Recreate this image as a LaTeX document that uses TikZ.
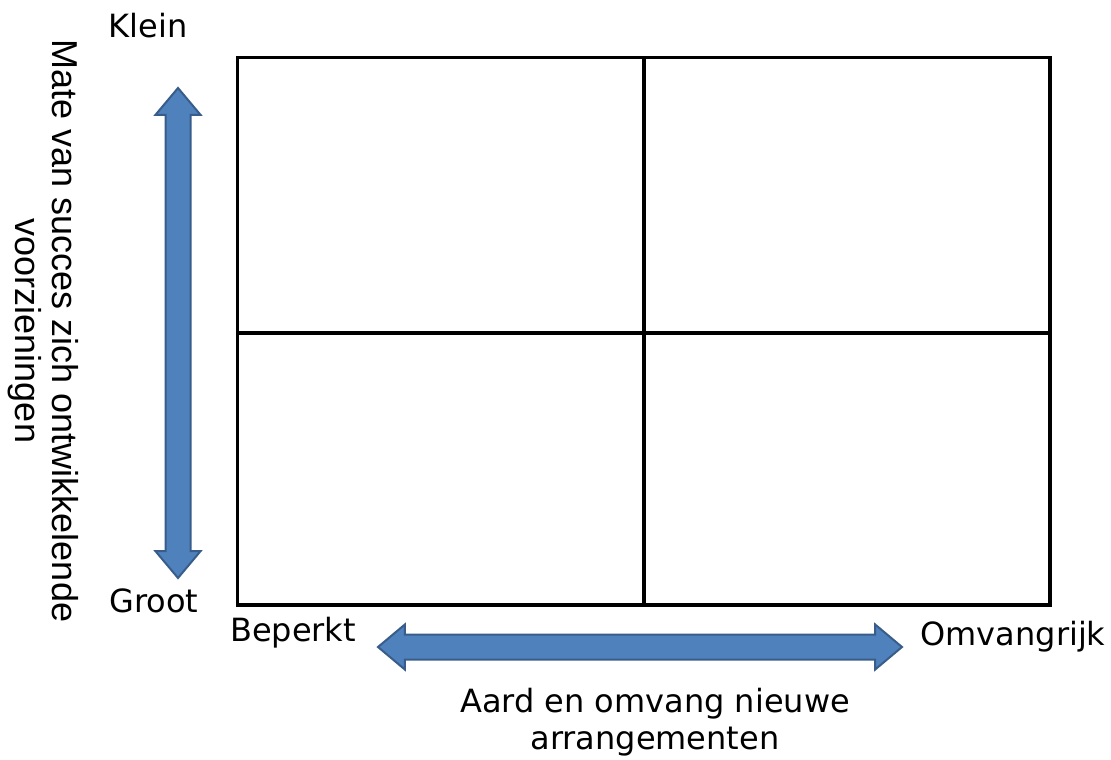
\documentclass[tikz,border=0pt]{standalone}
\usepackage{fontspec}
\setmainfont{DejaVu Sans}
\newfontfamily\arialfont{Liberation Sans}
\usetikzlibrary{shapes.arrows}
\definecolor{arrowfill}{HTML}{4F81BD}
\definecolor{arrowline}{HTML}{385D8A}

\begin{document}
\begin{tikzpicture}[x=1pt,y=-1pt,
    bigarrow/.style={double arrow, fill=arrowfill, draw=arrowline, line width=2pt,
      inner sep=11.5pt, minimum width=0pt, double arrow head extend=10pt,
      double arrow tip angle=80},
    lbl/.style={font=\fontsize{32}{37}\selectfont, inner sep=0pt}]
    \useasboundingbox (0,0) rectangle (1111,760);

    % quadrants
    \coordinate (tl) at (237.5,57.5);
    \coordinate (br) at (1050,605);
    \draw[line width=3.6pt] (tl) rectangle (br);
    \draw[line width=3.6pt] (644,57.5) -- (644,605);
    \draw[line width=3.6pt] (237.5,333) -- (1050,333);

    % axes
    \node[bigarrow, rotate=90, minimum height=490pt] (vaxis) at (178,333) {};
    \node[bigarrow, minimum height=524pt] (haxis) at (640,647) {};

    \node[lbl] (klein) at (148,26) {Klein};
    \node[lbl] (groot) at (154,601) {Groot};
    \node[lbl] (beperkt) at (293,633) {Beperkt};
    \node[lbl] (omvang) at (1013,637) {Omvangrijk};
    \node[lbl, align=center] (aard) at (655,722) {Aard en omvang nieuwe\\arrangementen};
    \node[font=\arialfont\fontsize{36}{37}\selectfont, inner sep=0pt, rotate=-90, align=center]
      (mate) at (43,331) {Mate van succes zich ontwikkelende\\voorzieningen};
\end{tikzpicture}
\end{document}
